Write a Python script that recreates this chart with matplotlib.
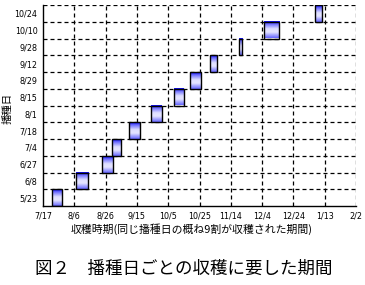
import datetime as dt
import numpy as np
import matplotlib
matplotlib.use("Agg")
import matplotlib.pyplot as plt
import matplotlib.dates as mdates
from matplotlib.colors import LinearSegmentedColormap

plt.rcParams['font.family'] = ['Noto Sans CJK JP', 'DejaVu Sans']

# Sowing dates (bottom to top)
sowing = ['5/23', '6/8', '6/27', '7/4', '7/18', '8/1', '8/15', '8/29',
          '9/12', '9/28', '10/10', '10/24']
# Harvest period start / end (approx. 90% of harvest)
harvest_start = ['2000-07-23', '2000-08-07', '2000-08-24', '2000-08-30',
                 '2000-09-10', '2000-09-24', '2000-10-09', '2000-10-19',
                 '2000-11-01', '2000-11-19', '2000-12-05', '2001-01-07']
harvest_end = ['2000-07-29', '2000-08-15', '2000-08-31', '2000-09-05',
               '2000-09-17', '2000-10-01', '2000-10-15', '2000-10-26',
               '2000-11-05', '2000-11-21', '2000-12-15', '2001-01-11']
# x-axis ticks
x_ticks = ['2000-07-17', '2000-08-06', '2000-08-26', '2000-09-15',
           '2000-10-05', '2000-10-25', '2000-11-14', '2000-12-04',
           '2000-12-24', '2001-01-13', '2001-02-02']

def num(s):
    return mdates.date2num(dt.datetime.strptime(s, '%Y-%m-%d'))

def md(s):
    d = dt.datetime.strptime(s, '%Y-%m-%d')
    return f"{d.month}/{d.day}"

xs = [num(s) for s in harvest_start]
xe = [num(s) for s in harvest_end]
xt = [num(s) for s in x_ticks]
xt_labels = [md(s) for s in x_ticks]

fig = plt.figure(figsize=(3.65, 2.85), dpi=100)
ax = fig.add_axes([43/365, 1 - 206/285, (356-43)/365, (206-5)/285])

cmap = LinearSegmentedColormap.from_list('g', [
    (0.0, (0.40, 0.40, 1.0)),
    (0.35, (0.90, 0.90, 1.0)),
    (0.55, (0.87, 0.87, 1.0)),
    (0.85, (0.40, 0.40, 1.0)),
    (1.0, (0.0, 0.0, 0.95)),
])
grad = np.linspace(0, 1, 64).reshape(-1, 1)

ys = np.arange(len(sowing))
for y, a, b in zip(ys, xs, xe):
    ax.imshow(grad, cmap=cmap, extent=[a, b, y + 0.5, y - 0.5],
              aspect='auto', origin='upper', interpolation='bilinear', zorder=2)
ax.barh(ys, np.array(xe) - np.array(xs), left=xs, height=1.0,
        fill=False, edgecolor='black', linewidth=1.0, zorder=3)

ax.set_xlim(xt[0], xt[-1])
ax.set_ylim(-0.5, len(sowing) - 0.5)

# dashed grid
for x in xt[1:]:
    ax.axvline(x, color='black', lw=0.9, dashes=(3.2, 2.4), zorder=1)
for y in np.arange(len(sowing)) + 0.5:
    ax.axhline(y, color='black', lw=0.9, dashes=(3.2, 2.4), zorder=1)

ax.spines['top'].set_visible(False)
ax.spines['right'].set_visible(False)
ax.spines['left'].set_linewidth(1.0)
ax.spines['bottom'].set_linewidth(1.0)

ax.set_xticks(xt)
ax.set_xticklabels(xt_labels, fontsize=5.8, family='DejaVu Sans')
ax.set_yticks(ys)
ax.set_yticklabels(sowing, fontsize=5.8, family='DejaVu Sans')
ax.tick_params(length=0)
ax.tick_params(axis='y', pad=4)
ax.tick_params(axis='x', pad=4)

fig.text(8/365, 1 - 108/285, '播種日', rotation=90, ha='center', va='center',
         fontsize=7.5)
fig.text(192/365, 1 - 229/285, '収穫時期(同じ播種日の概ね9割が収穫された期間)',
         ha='center', va='center', fontsize=7.8)
fig.text(184/365, 1 - 269/285, '図２　播種日ごとの収穫に要した期間',
         ha='center', va='center', fontsize=12.6)

fig.savefig('out.png', dpi=100)
